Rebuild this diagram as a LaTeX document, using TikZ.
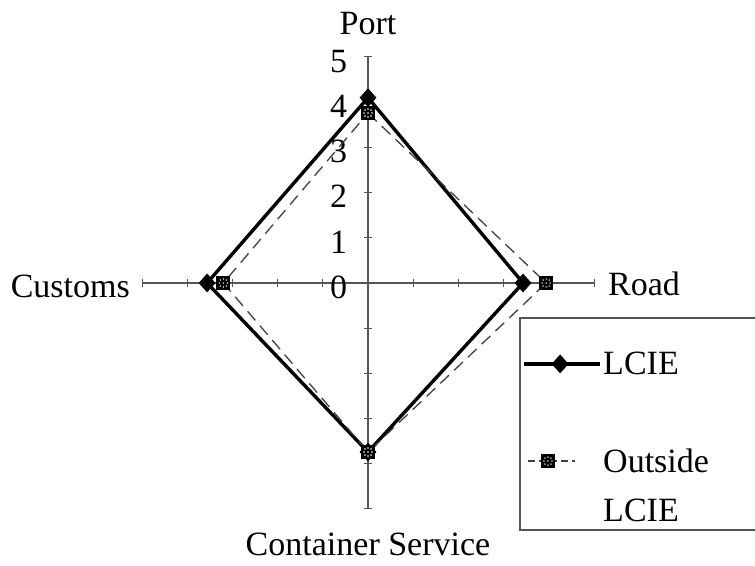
\documentclass[tikz,border=0pt]{standalone}
\usepackage{fontspec}
\setmainfont{Liberation Serif}
\usetikzlibrary{shapes.geometric, positioning}
\definecolor{axisgray}{HTML}{555555}
\tikzset{
  axisLine/.style = {draw=axisgray, line width=1.1pt},
  tickMark/.style = {draw=axisgray, line width=1pt},
  axisLabel/.style = {font=\fontsize{34}{40}\selectfont, inner sep=0pt},
  valLabel/.style = {font=\fontsize{34}{40}\selectfont, inner sep=0pt, anchor=east},
  lcieLine/.style = {draw=black, line width=3.4pt, line join=miter},
  outLine/.style = {draw=black!75, line width=1.3pt, dash pattern=on 12pt off 7pt},
  lcieMark/.style = {diamond, fill=black, inner sep=0pt, minimum width=17pt, minimum height=19pt},
  outMark/.style = {rectangle, fill=black, inner sep=0pt, minimum size=14pt,
    path picture={
      \foreach \dx/\dy in {-3/-3,3/-3,-3/3,3/3,0/0,0/-4,0/4,-4/0,4/0}
        \fill[white] ([shift={(\dx pt,\dy pt)}]path picture bounding box.center) circle (0.8pt);
    }},
  legendBox/.style = {draw=axisgray, line width=1.2pt},
}

\begin{document}
\begin{tikzpicture}[x=45.2pt, y=45.2pt]
\useasboundingbox (-8.142,-6.261) rectangle (8.562,6.261);

% axes
\coordinate (portEnd) at (0,5);
\coordinate (contEnd) at (0,-5);
\coordinate (custEnd) at (-5,0);
\coordinate (roadEnd) at (5,0);
\draw[axisLine] (custEnd) -- (roadEnd);
\draw[axisLine] (contEnd) -- (portEnd);
\foreach \i in {1,...,5} {
  \draw[tickMark] (-0.09,\i) -- (0.09,\i);
  \draw[tickMark] (-0.09,-\i) -- (0.09,-\i);
  \draw[tickMark] (\i,-0.09) -- (\i,0.09);
  \draw[tickMark] (-\i,-0.09) -- (-\i,0.09);
}
\foreach \i in {0,...,5}
  \node[valLabel] (v\i) at (-0.46,\i-0.09) {\i};

\node[axisLabel, anchor=base] (port) at (0,5.487) {Port};
\node[axisLabel, anchor=base east] (customs) at (-5.265,-0.33) {Customs};
\node[axisLabel, anchor=base west] (road) at (5.31,-0.27) {Road};
\node[axisLabel, anchor=base] (container) at (0,-6.04) {Container Service};

% LCIE
\coordinate (lP) at (0,4.1);
\coordinate (lR) at (3.43,0);
\coordinate (lC) at (0,-3.74);
\coordinate (lU) at (-3.56,0);
% outside LCIE
\coordinate (oP) at (0,3.76);
\coordinate (oR) at (3.94,0);
\coordinate (oC) at (0,-3.74);
\coordinate (oU) at (-3.2,0);

\draw[lcieLine] (lP) -- (lR) -- (lC) -- (lU) -- cycle;
\draw[outLine] (oP) -- (oR) -- (oC) -- (oU) -- cycle;
\foreach \p in {lP,lR,lC,lU}
  \node[lcieMark] (m\p) at (\p) {};
\foreach \p in {oP,oR,oC,oU}
  \node[outMark] (m\p) at (\p) {};

% legend
\coordinate (boxTR) at (8.7,-0.774);
\coordinate (boxTL) at (3.363,-0.774);
\coordinate (boxBL) at (3.363,-5.465);
\coordinate (boxBR) at (8.7,-5.465);
\draw[legendBox] (boxTR) -- (boxTL) -- (boxBL) -- (boxBR);

\coordinate (k1a) at (3.45,-1.79);
\coordinate (k1b) at (5.13,-1.79);
\draw[lcieLine] (k1a) -- (k1b);
\node[lcieMark] (k1m) at (4.25,-1.79) {};
\node[axisLabel, anchor=west] (k1t) at (5.2,-1.79) {LCIE};

\coordinate (k2a) at (3.54,-3.94);
\coordinate (k2b) at (4.58,-3.94);
\draw[outLine, dash pattern=on 7pt off 4pt] (k2a) -- (k2b);
\node[outMark] (k2m) at (3.98,-3.94) {};
\node[axisLabel, anchor=west, align=left, font=\fontsize{34}{49}\selectfont] (k2t) at (5.2,-4.48) {Outside\\LCIE};

\end{tikzpicture}
\end{document}
